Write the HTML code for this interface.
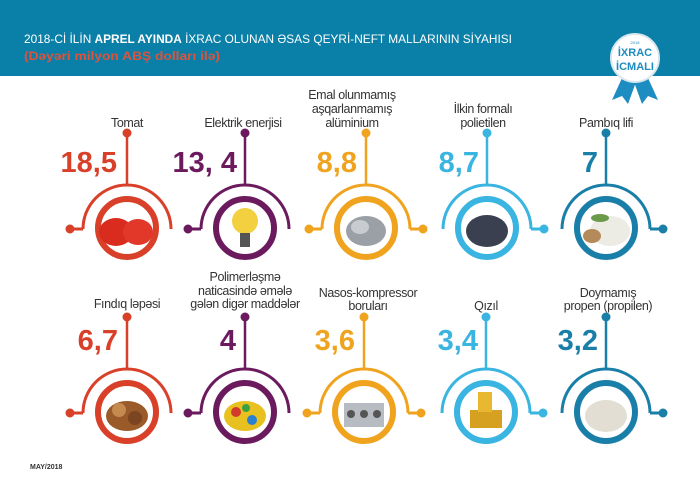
<!DOCTYPE html>
<html><head><meta charset="utf-8"><style>
html,body{margin:0;padding:0;background:#fff}
svg{display:block;font-family:"Liberation Sans",sans-serif}
</style></head><body>
<svg width="700" height="495" viewBox="0 0 700 495" xmlns="http://www.w3.org/2000/svg">
<rect width="700" height="495" fill="#fff"/>
<rect x="0" y="0" width="700" height="76" fill="#0a7fa8"/>
<text x="24" y="43" font-size="12" fill="#fff" textLength="488" lengthAdjust="spacingAndGlyphs">2018-Cİ İLİN <tspan font-weight="bold">APREL AYINDA</tspan> İXRAC OLUNAN ƏSAS QEYRİ-NEFT MALLARININ SİYAHISI</text>
<text x="24" y="60" font-size="11.5" font-weight="bold" fill="#e0523a" textLength="196" lengthAdjust="spacingAndGlyphs">(Dəyəri milyon ABŞ dolları ilə)</text>
<!-- badge -->
<polygon points="622,78 612,100 622,96 628,104 636,82" fill="#1d8cc0"/>
<polygon points="648,78 658,100 648,96 642,104 634,82" fill="#1d8cc0"/>
<circle cx="635" cy="58" r="24" fill="#fff" stroke="#d8e6ee" stroke-width="2"/>
<text x="635" y="56" font-size="11" font-weight="bold" fill="#1d8cc0" text-anchor="middle">İXRAC</text>
<text x="635" y="70" font-size="11" font-weight="bold" fill="#1d8cc0" text-anchor="middle">İCMALI</text>
<text x="635" y="44" font-size="4" fill="#1d8cc0" text-anchor="middle">2018</text>

<defs>
<g id="base">
<path d="M -44 1 A 44 44 0 0 1 44 1" fill="none" stroke-width="3"/>
<line x1="0" y1="-43" x2="0" y2="-94" stroke-width="2.5"/>
<circle cx="0" cy="-95" r="4"/>
<circle cx="0" cy="0" r="29" fill="#fff" stroke-width="6"/>
</g>
<g id="L"><use href="#base"/><line x1="-44" y1="1" x2="-56" y2="1" stroke-width="3"/><circle cx="-57" cy="1" r="4"/></g>
<g id="R"><use href="#base"/><line x1="44" y1="1" x2="56" y2="1" stroke-width="3"/><circle cx="57" cy="1" r="4"/></g>
<g id="B"><use href="#L"/><line x1="44" y1="1" x2="56" y2="1" stroke-width="3"/><circle cx="57" cy="1" r="4"/></g>
</defs>

<!-- Row 1 -->
<g fill="#d9402a" stroke="#d9402a"><use href="#L" x="127" y="228"/></g>
<g fill="#6b1a5e" stroke="#6b1a5e"><use href="#L" x="245" y="228"/></g>
<g fill="#f0a31e" stroke="#f0a31e"><use href="#B" x="366" y="228"/></g>
<g fill="#3ab4e0" stroke="#3ab4e0"><use href="#R" x="487" y="228"/></g>
<g fill="#1a7fa8" stroke="#1a7fa8"><use href="#R" x="606" y="228"/></g>
<!-- Row 2 -->
<g fill="#d9402a" stroke="#d9402a"><use href="#L" x="127" y="412"/></g>
<g fill="#6b1a5e" stroke="#6b1a5e"><use href="#L" x="245" y="412"/></g>
<g fill="#f0a31e" stroke="#f0a31e"><use href="#B" x="364" y="412"/></g>
<g fill="#3ab4e0" stroke="#3ab4e0"><use href="#R" x="486" y="412"/></g>
<g fill="#1a7fa8" stroke="#1a7fa8"><use href="#R" x="606" y="412"/></g>

<!-- icons row1 -->
<ellipse cx="116" cy="232" rx="17" ry="14" fill="#d92b1e"/><ellipse cx="138" cy="232" rx="15" ry="13" fill="#e2382a"/>
<circle cx="245" cy="221" r="13" fill="#f2d040"/><rect x="240" y="233" width="10" height="14" fill="#555"/>
<ellipse cx="366" cy="231" rx="20" ry="15" fill="#9aa0a6"/><ellipse cx="360" cy="227" rx="9" ry="7" fill="#c8ccd0"/>
<ellipse cx="487" cy="231" rx="21" ry="16" fill="#3a4050"/>
<ellipse cx="610" cy="231" rx="20" ry="15" fill="#ecebe4"/><ellipse cx="592" cy="236" rx="9" ry="7" fill="#b48a5a"/><ellipse cx="600" cy="218" rx="9" ry="4" fill="#6a9a4a"/>
<!-- icons row2 -->
<ellipse cx="127" cy="416" rx="21" ry="15" fill="#9a5a2a"/><circle cx="119" cy="410" r="7" fill="#c58a4e"/><circle cx="135" cy="418" r="7" fill="#7a4520"/>
<ellipse cx="245" cy="416" rx="21" ry="15" fill="#e8c020"/><circle cx="236" cy="412" r="5" fill="#d23a2a"/><circle cx="252" cy="420" r="5" fill="#2a80d0"/><circle cx="246" cy="408" r="4" fill="#3aa040"/>
<rect x="344" y="403" width="40" height="24" fill="#b7bcc2"/><circle cx="351" cy="414" r="4" fill="#555"/><circle cx="364" cy="414" r="4" fill="#555"/><circle cx="377" cy="414" r="4" fill="#555"/>
<rect x="470" y="410" width="32" height="18" fill="#d6a020"/><rect x="478" y="392" width="14" height="20" fill="#e8b830"/>
<ellipse cx="606" cy="416" rx="21" ry="16" fill="#e2ded4"/>

<!-- numbers -->
<g font-weight="bold" font-size="29" text-anchor="end">
<text x="117" y="172" fill="#d9402a">18,5</text>
<text x="237" y="172" fill="#6b1a5e">13, 4</text>
<text x="357" y="172" fill="#f0a31e">8,8</text>
<text x="479" y="172" fill="#3ab4e0">8,7</text>
<text x="598" y="172" fill="#1a7fa8">7</text>
<text x="118" y="350" fill="#d9402a">6,7</text>
<text x="236" y="350" fill="#6b1a5e">4</text>
<text x="355" y="350" fill="#f0a31e">3,6</text>
<text x="478" y="350" fill="#3ab4e0">3,4</text>
<text x="598" y="350" fill="#1a7fa8">3,2</text>
</g>

<!-- labels -->
<g font-size="12.5" fill="#333" text-anchor="middle" letter-spacing="-0.4">
<text x="127" y="127">Tomat</text>
<text x="243" y="127">Elektrik enerjisi</text>
<text x="352" y="99">Emal olunmamış</text>
<text x="352" y="113">aşqarlanmamış</text>
<text x="352" y="127">alüminium</text>
<text x="483" y="113">İlkin formalı</text>
<text x="483" y="127">polietilen</text>
<text x="606" y="127">Pambıq lifi</text>
<text x="127" y="308">Fındıq ləpəsi</text>
<text x="245" y="281">Polimerləşmə</text>
<text x="245" y="295">naticasində əmələ</text>
<text x="245" y="308">gələn digər maddələr</text>
<text x="368" y="297">Nasos-kompressor</text>
<text x="368" y="310">boruları</text>
<text x="486" y="310">Qızıl</text>
<text x="608" y="297">Doymamış</text>
<text x="608" y="310">propen (propilen)</text>
</g>
<text x="30" y="469" font-size="7" font-weight="bold" fill="#333">MAY/2018</text>
</svg>
</body></html>
